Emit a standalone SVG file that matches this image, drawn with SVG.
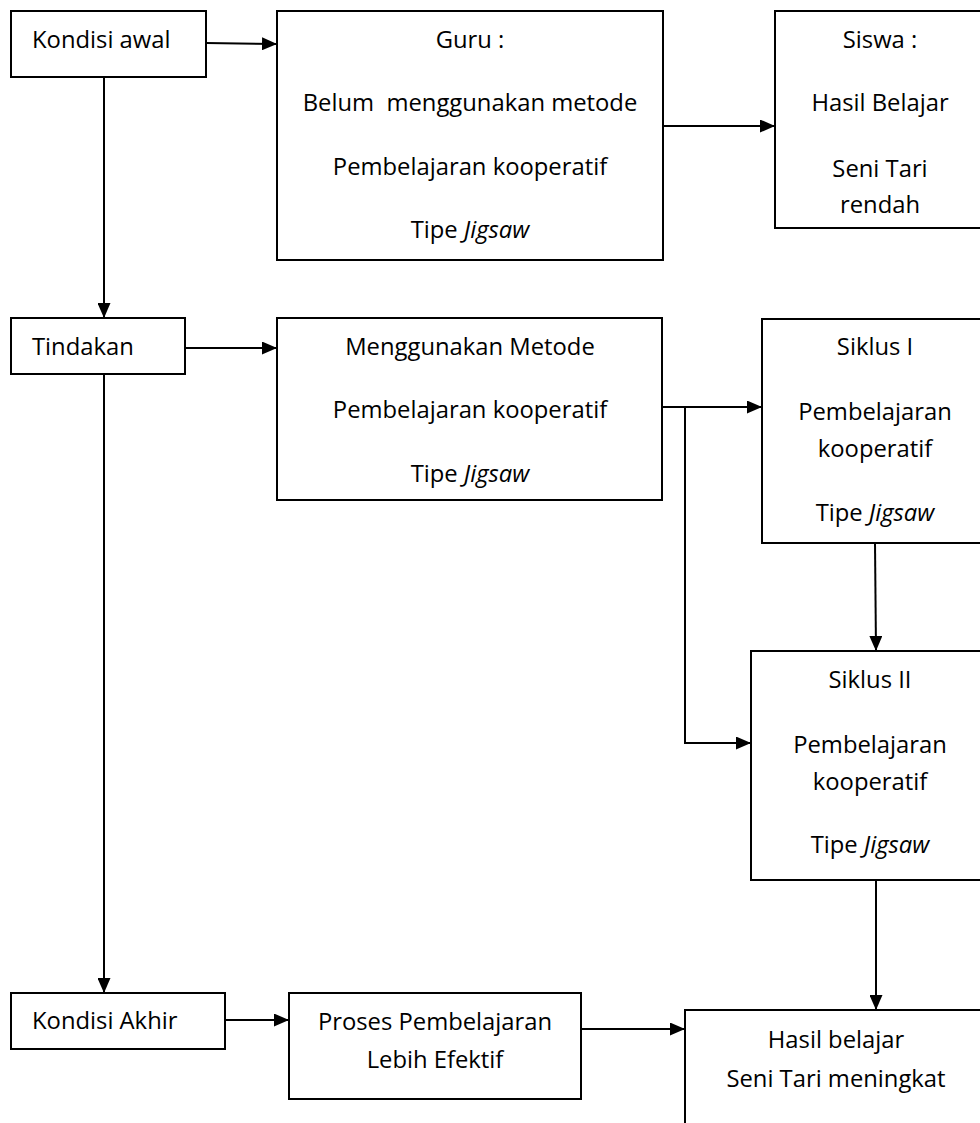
<svg xmlns="http://www.w3.org/2000/svg" width="980" height="1123" viewBox="0 0 980 1123">
<style>
.box{fill:#fff;stroke:#000;stroke-width:2}
.t{font-family:"Open Sans","Noto Sans","Liberation Sans",sans-serif;font-size:23.8px;fill:#000}
.c{text-anchor:middle}
.conn{fill:none;stroke:#000;stroke-width:2}
.i{font-style:italic}
</style>
<defs>
<marker id="ah" markerUnits="userSpaceOnUse" markerWidth="15" markerHeight="13" refX="15" refY="6.5" orient="auto">
<path d="M0,0 L15,6.5 L0,13 Z" fill="#000"/>
</marker>
</defs>
<rect width="980" height="1123" fill="#fff"/>
<g id="connectors">
<line class="conn" x1="206" y1="43" x2="277" y2="44" marker-end="url(#ah)"/>
<line class="conn" x1="663" y1="126" x2="775" y2="126" marker-end="url(#ah)"/>
<line class="conn" x1="104" y1="77" x2="104" y2="318" marker-end="url(#ah)"/>
<line class="conn" x1="185" y1="348" x2="277" y2="348" marker-end="url(#ah)"/>
<line class="conn" x1="662" y1="407" x2="762" y2="407" marker-end="url(#ah)"/>
<polyline class="conn" points="685,407 685,743 751,743" marker-end="url(#ah)"/>
<line class="conn" x1="875" y1="543" x2="876" y2="651" marker-end="url(#ah)"/>
<line class="conn" x1="104" y1="374" x2="104" y2="993" marker-end="url(#ah)"/>
<line class="conn" x1="225" y1="1020" x2="289" y2="1020" marker-end="url(#ah)"/>
<line class="conn" x1="581" y1="1029" x2="685" y2="1029" marker-end="url(#ah)"/>
<line class="conn" x1="876" y1="880" x2="876" y2="1010" marker-end="url(#ah)"/>
</g>
<g id="kondisi-awal">
<rect class="box" x="11" y="11" width="195" height="66"/>
<text class="t" x="32" y="48">Kondisi awal</text>
</g>
<g id="guru">
<rect class="box" x="277" y="11" width="386" height="249"/>
<text class="t c" x="470" y="48">Guru :</text>
<text class="t c" x="470" y="111" xml:space="preserve">Belum  menggunakan metode</text>
<text class="t c" x="470" y="175">Pembelajaran kooperatif</text>
<text class="t c" x="470" y="238">Tipe <tspan class="i">Jigsaw</tspan></text>
</g>
<g id="siswa">
<rect class="box" x="775" y="11" width="240" height="217"/>
<text class="t c" x="880" y="48">Siswa :</text>
<text class="t c" x="880" y="111">Hasil Belajar</text>
<text class="t c" x="880" y="177">Seni Tari</text>
<text class="t c" x="880" y="213">rendah</text>
</g>
<g id="tindakan">
<rect class="box" x="11" y="318" width="174" height="56"/>
<text class="t" x="32" y="355">Tindakan</text>
</g>
<g id="menggunakan">
<rect class="box" x="277" y="318" width="385" height="182"/>
<text class="t c" x="470" y="355">Menggunakan Metode</text>
<text class="t c" x="470" y="418">Pembelajaran kooperatif</text>
<text class="t c" x="470" y="482">Tipe <tspan class="i">Jigsaw</tspan></text>
</g>
<g id="siklus-1">
<rect class="box" x="762" y="319" width="250" height="224"/>
<text class="t c" x="875" y="355">Siklus I</text>
<text class="t c" x="875" y="420">Pembelajaran</text>
<text class="t c" x="875" y="457">kooperatif</text>
<text class="t c" x="875" y="521">Tipe <tspan class="i">Jigsaw</tspan></text>
</g>
<g id="siklus-2">
<rect class="box" x="751" y="651" width="260" height="229"/>
<text class="t c" x="870" y="688">Siklus II</text>
<text class="t c" x="870" y="753">Pembelajaran</text>
<text class="t c" x="870" y="790">kooperatif</text>
<text class="t c" x="870" y="853">Tipe <tspan class="i">Jigsaw</tspan></text>
</g>
<g id="kondisi-akhir">
<rect class="box" x="11" y="993" width="214" height="56"/>
<text class="t" x="32" y="1029">Kondisi Akhir</text>
</g>
<g id="proses">
<rect class="box" x="289" y="993" width="292" height="106"/>
<text class="t c" x="435" y="1030">Proses Pembelajaran</text>
<text class="t c" x="435" y="1068">Lebih Efektif</text>
</g>
<g id="hasil">
<rect class="box" x="685" y="1010" width="320" height="150"/>
<text class="t c" x="836" y="1048">Hasil belajar</text>
<text class="t c" x="836" y="1087">Seni Tari meningkat</text>
</g>
</svg>
